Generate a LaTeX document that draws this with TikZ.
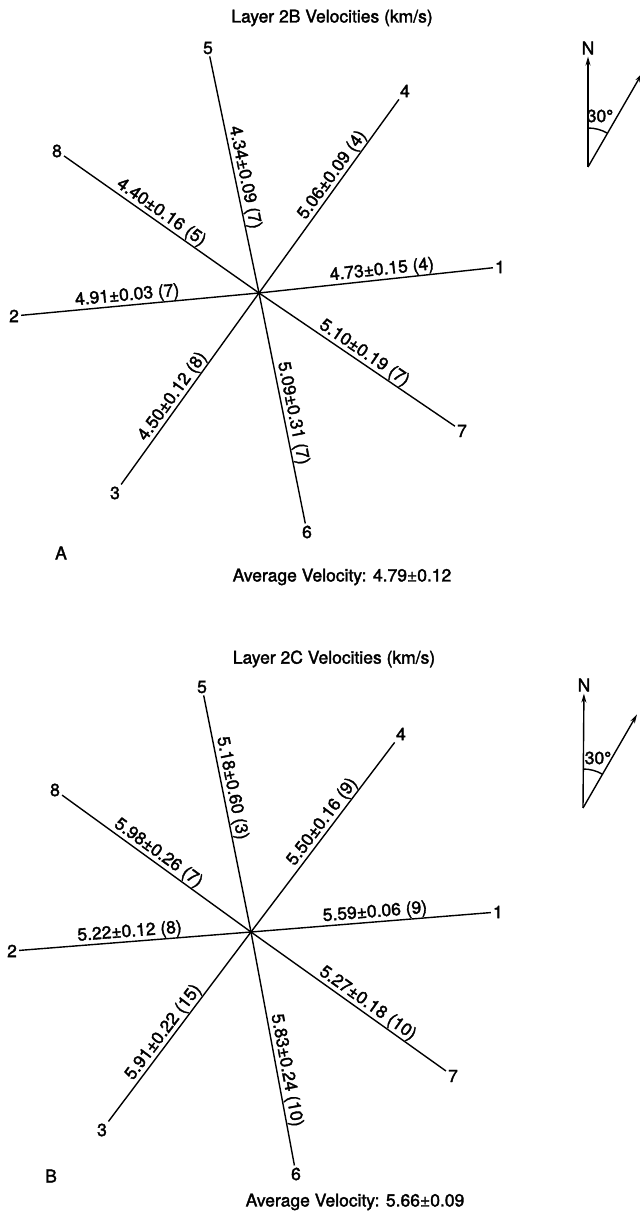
\documentclass[tikz,border=0pt]{standalone}
\usepackage{fontspec}
\setmainfont{TeX Gyre Heros}[FakeBold=2]
\usetikzlibrary{arrows.meta}
\tikzstyle{num} = [
    inner sep=2pt
]
\tikzstyle{vel} = [
    sloped,
    above,
    inner sep=0.5pt
]
\tikzstyle{ray} = [
    line width=1.4pt
]
\tikzstyle{arrow} = [line width=1.4pt,->,>={Stealth[length=9pt,width=5pt]}]

\begin{document}
\begin{tikzpicture}[x=1pt, y=1pt, font=\fontsize{17.5}{20}\selectfont]

\useasboundingbox (0,0) rectangle (640,1211);

\node (titleA) at (332,1193) {Layer 2B Velocities (km/s)};

\coordinate (cA) at (259,918);

\node (a1) [num] at (500,944) {1};
\node (a2) [num] at (14,895) {2};
\node (a3) [num] at (115,718) {3};
\node (a4) [num] at (405,1120) {4};
\node (a5) [num] at (208,1163) {5};
\node (a6) [num] at (307,679) {6};
\node (a7) [num] at (462,780) {7};
\node (a8) [num] at (57,1060) {8};

\draw [ray] (cA) -- (a1) node (va1) [vel, pos=0.53] {4.73±0.15 (4)};
\draw [ray] (cA) -- (a2) node (va2) [vel, pos=0.55] {4.91±0.03 (7)};
\draw [ray] (cA) -- (a3) node (va3) [vel, pos=0.57] {4.50±0.12 (8)};
\draw [ray] (cA) -- (a4) node (va4) [vel, pos=0.58] {5.06±0.09 (4)};
\draw [ray] (cA) -- (a5) node (va5) [vel, pos=0.48] {4.34±0.09 (7)};
\draw [ray] (cA) -- (a6) node (va6) [vel, pos=0.53] {5.09±0.31 (7)};
\draw [ray] (cA) -- (a7) node (va7) [vel, pos=0.51] {5.10±0.19 (7)};
\draw [ray] (cA) -- (a8) node (va8) [vel, pos=0.53] {4.40±0.16 (5)};

\node (tagA) at (61,658) {A};

\node (avgA) at (342,634) {Average Velocity: 4.79±0.12};

\node (northA) [num] at (588,1163) {N};
\coordinate (oA) at (588,1044);
\coordinate (eA) at ([shift={(60:108)}]oA);
\draw [arrow] (oA) -- (northA);
\draw [arrow] (oA) -- (eA);
\draw [ray] ([shift={(90:39)}]oA) arc (90:60:39pt);
\node (angA) at (600,1095) {30°};

\node (titleB) at (334,552) {Layer 2C Velocities (km/s)};

\coordinate (cB) at (251,279);

\node (b1) [num] at (498,299) {1};
\node (b2) [num] at (12,260) {2};
\node (b3) [num] at (102,81) {3};
\node (b4) [num] at (401,477) {4};
\node (b5) [num] at (202,524) {5};
\node (b6) [num] at (296,37) {6};
\node (b7) [num] at (453,135) {7};
\node (b8) [num] at (55,421) {8};

\draw [ray] (cB) -- (b1) node (vb1) [vel, pos=0.52] {5.59±0.06 (9)};
\draw [ray] (cB) -- (b2) node (vb2) [vel, pos=0.52] {5.22±0.12 (8)};
\draw [ray] (cB) -- (b3) node (vb3) [vel, pos=0.56] {5.91±0.22 (15)};
\draw [ray] (cB) -- (b4) node (vb4) [vel, pos=0.55] {5.50±0.16 (9)};
\draw [ray] (cB) -- (b5) node (vb5) [vel, pos=0.60] {5.18±0.60 (3)};
\draw [ray] (cB) -- (b6) node (vb6) [vel, pos=0.60] {5.83±0.24 (10)};
\draw [ray] (cB) -- (b7) node (vb7) [vel, pos=0.57] {5.27±0.18 (10)};
\draw [ray] (cB) -- (b8) node (vb8) [vel, pos=0.52] {5.98±0.26 (7)};

\node (tagB) at (51,35) {B};

\node (avgB) at (355,9) {Average Velocity: 5.66±0.09};

\node (northB) [num] at (584,526) {N};
\coordinate (oB) at (583,403);
\coordinate (eB) at ([shift={(60:108)}]oB);
\draw [arrow] (oB) -- (northB);
\draw [arrow] (oB) -- (eB);
\draw [ray] ([shift={(90:39)}]oB) arc (90:60:39pt);
\node (angB) at (598,453) {30°};

\end{tikzpicture}
\end{document}
